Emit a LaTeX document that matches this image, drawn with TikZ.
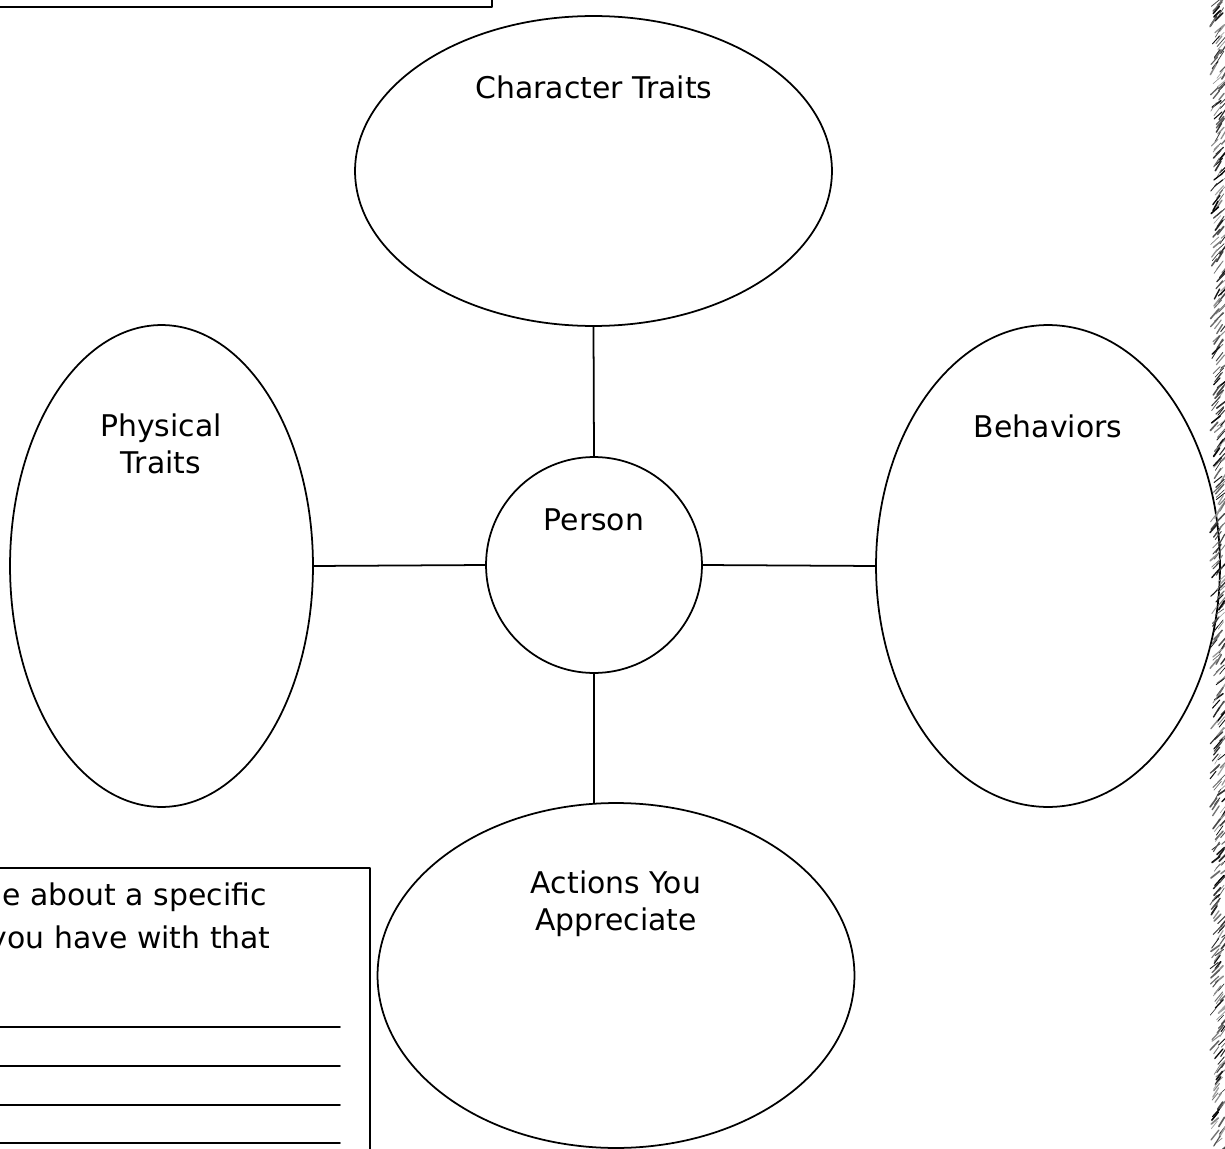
\documentclass[tikz,border=0pt]{standalone}
\usepackage{fontspec}
\setmainfont{DejaVu Sans}
\usetikzlibrary{shapes.geometric}
\begin{document}
\begin{tikzpicture}[x=0.02cm, y=-0.02cm, line join=round, line cap=round,
	bubble/.style={draw, ellipse, line width=1pt, inner sep=0pt, outer sep=0pt},
	word/.style={font=\fontsize{17}{21}\selectfont, align=center, inner sep=0pt},
	frame/.style={draw, line width=1.4pt}]
	\useasboundingbox (0,0) rectangle (1225,1149);
	\clip (0,0) rectangle (1225,1149);
	% boxes cut by the page edge
	\draw[frame] (-10,-10) rectangle (492,7);
	\draw[frame] (-10,868) rectangle (370,1170);
	\foreach \y in {1027,1066,1105,1143}
		\draw[line width=1.1pt] (-5,\y) -- (340,\y);
	\node[word, anchor=east] (tell) at (267,897) {e about a specific};
	\node[word, anchor=east] (have) at (271,940) {you have with that};
	% bubbles
	\node[bubble, minimum width=9.54cm, minimum height=6.2cm] (traits) at (593.5,171) {};
	\node[bubble, minimum width=6.06cm, minimum height=9.64cm] (phys) at (161.5,566) {};
	\node[bubble, minimum width=6.88cm, minimum height=9.64cm] (behav) at (1048,566) {};
	\node[bubble, minimum width=9.54cm, minimum height=6.9cm] (acts) at (616,975.5) {};
	\node[bubble, circle, minimum size=4.32cm] (person) at (594,565) {};
	\draw[line width=1pt] (traits.south) -- (person.north);
	\draw[line width=1pt] (phys.east) -- (person.west);
	\draw[line width=1pt] (person.east) -- (behav.west);
	\draw[line width=1pt] (person.south) -- (person.south |- acts.north);
	% titles
	\node[word] (traitsname) at (594,87) {Character Traits};
	\node[word] (physname) at (161,444) {Physical\\Traits};
	\node[word] (behavname) at (1048,426) {Behaviors};
	\node[word] (personname) at (594,520) {Person};
	\node[word] (actsname) at (616,904) {Actions You\\Appreciate};
	% rough right edge
	\pgfmathsetseed{7}
	\foreach \k in {0,...,400}{
		\pgfmathsetmacro{\dx}{1210+12*rnd}
		\pgfmathsetmacro{\dy}{\k*2.9+3*rnd}
		\pgfmathsetmacro{\gr}{35+65*rnd}
		\pgfmathsetmacro{\lw}{0.3+0.7*rnd}
		\draw[black!\gr, line width=\lw pt] (\dx,\dy) -- ++(5+4*rnd,-6-4*rnd);
	}
\end{tikzpicture}
\end{document}
